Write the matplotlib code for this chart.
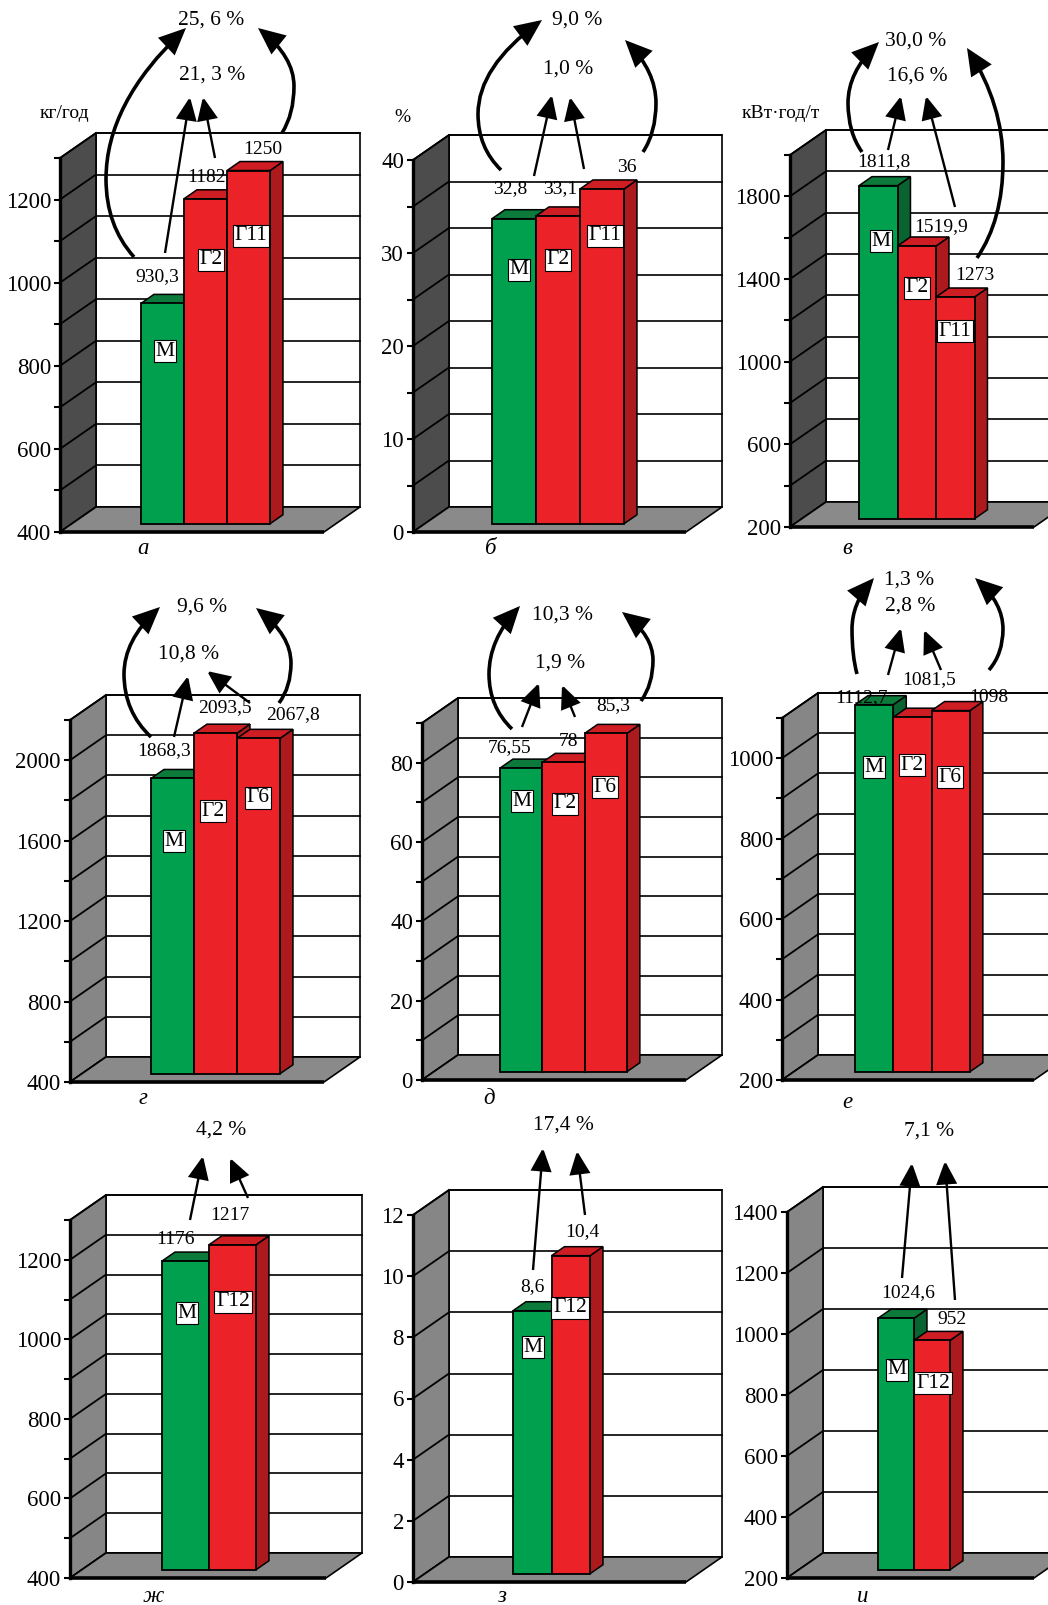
import numpy as np
import matplotlib
matplotlib.use("Agg")
import matplotlib.pyplot as plt
import matplotlib.transforms as mtransforms
from matplotlib.patches import Polygon, Rectangle, FancyArrowPatch
from matplotlib.path import Path
from matplotlib.ticker import FuncFormatter

plt.rcParams['font.family'] = ['Liberation Serif', 'DejaVu Serif']

W, H = 1048, 1605

# ---------------- data ----------------
a_cats = ['М', 'Г2', 'Г11']
a_vals = [930.3, 1182, 1250]
b_cats = ['М', 'Г2', 'Г11']
b_vals = [32.8, 33.1, 36]
v_cats = ['М', 'Г2', 'Г11']
v_vals = [1811.8, 1519.9, 1273]
g_cats = ['М', 'Г2', 'Г6']
g_vals = [1868.3, 2093.5, 2067.8]
d_cats = ['М', 'Г2', 'Г6']
d_vals = [76.55, 78, 85.3]
e_cats = ['М', 'Г2', 'Г6']
e_vals = [1112.7, 1081.5, 1098]
zh_cats = ['М', 'Г12']
zh_vals = [1176, 1217]
z_cats = ['М', 'Г12']
z_vals = [8.6, 10.4]
i_cats = ['М', 'Г12']
i_vals = [1024.6, 952]

# value axis: (min, max, grid step, labelled step)
a_axis = (400, 1300, 100, 200)
b_axis = (0, 40, 5, 10)
v_axis = (200, 2000, 200, 400)
g_axis = (400, 2200, 200, 400)
d_axis = (0, 90, 10, 20)
e_axis = (200, 1100, 100, 200)
zh_axis = (400, 1300, 100, 200)
z_axis = (0, 12, 2, 2)
i_axis = (200, 1400, 200, 200)

# relative changes written above the bars (outer, inner)
a_pct = ['25, 6 %', '21, 3 %']
b_pct = ['9,0 %', '1,0 %']
v_pct = ['30,0 %', '16,6 %']
g_pct = ['9,6 %', '10,8 %']
d_pct = ['10,3 %', '1,9 %']
e_pct = ['1,3 %', '2,8 %']
zh_pct = ['4,2 %']
z_pct = ['17,4 %']
i_pct = ['7,1 %']

units = {'а': 'кг/год', 'б': '%', 'в': 'кВт·год/т'}

# ---------------- layout (figure pixels, y downward) ----------------
DEPTH = (36, 25)          # wall depth offset
F0, FD = 0.33, 0.36       # bar front position / bar depth as share of wall depth
DARK_WALL, LIGHT_WALL, FLOOR = '#4c4c4c', '#868686', '#8a8a8a'

panels = [
    dict(letter='а', cats=a_cats, vals=a_vals, axis=a_axis, pct=a_pct,
         cell=(0, 0, 350, 560), axis_x=60, base_y=532, top_y=158,
         bar_left=141, bar_w=43, wall_right=360, wall=DARK_WALL,
         vlab=[(157, 277), (207, 177), (263, 150)],
         clab=[(165, 351), (211, 260), (251, 236)],
         plab=[(211, 20), (212, 75)],
         straight=[((165, 253), (190, 97)), ((215, 158), (203, 97))],
         curved=[((134, 257), (106, 179), (186, 28)), ((282, 133), (294, 86), (258, 28))],
         unit_xy=(65, 114), let_xy=(143, 549)),
    dict(letter='б', cats=b_cats, vals=b_vals, axis=b_axis, pct=b_pct,
         cell=(350, 0, 700, 560), axis_x=413, base_y=532, top_y=160,
         bar_left=492, bar_w=44, wall_right=722, wall=DARK_WALL,
         vlab=[(510, 189), (560, 189), (627, 167)],
         clab=[(519, 270), (558, 260), (605, 236)],
         plab=[(577, 20), (568, 69)],
         straight=[((534, 176), (552, 95)), ((584, 169), (570, 97))],
         curved=[((501, 170), (478, 114), (542, 20)), ((643, 152), (656, 103), (625, 40))],
         unit_xy=(402, 117), let_xy=(491, 549)),
    dict(letter='в', cats=v_cats, vals=v_vals, axis=v_axis, pct=v_pct,
         cell=(700, 0, 1048, 560), axis_x=790, base_y=527, top_y=155,
         bar_left=859, bar_w=38.5, wall_right=1070, wall=DARK_WALL,
         vlab=[(884, 162), (941, 227), (975, 275)],
         clab=[(881, 241), (917, 288), (955, 331)],
         plab=[(916, 41), (917, 76)],
         straight=[((888, 150), (901, 96)), ((955, 207), (926, 96))],
         curved=[((862, 152), (848, 103), (879, 42)), ((977, 258), (1003, 162), (967, 48))],
         unit_xy=(781, 114), let_xy=(847, 549)),
    dict(letter='г', cats=g_cats, vals=g_vals, axis=g_axis, pct=g_pct,
         cell=(0, 560, 350, 1100), axis_x=70, base_y=1082, top_y=720,
         bar_left=151, bar_w=43, wall_right=360, wall=LIGHT_WALL,
         vlab=[(164, 751), (225, 708), (293, 715)],
         clab=[(174, 841), (213, 811), (258, 798)],
         plab=[(202, 607), (189, 654)],
         straight=[((174, 737), (188, 676)), ((250, 703), (207, 671))],
         curved=[((151, 737), (124, 674), (160, 607)), ((279, 703), (291, 663), (256, 608))],
         unit_xy=None, let_xy=(143, 1098)),
    dict(letter='д', cats=d_cats, vals=d_vals, axis=d_axis, pct=d_pct,
         cell=(350, 560, 700, 1100), axis_x=422, base_y=1080, top_y=723,
         bar_left=500, bar_w=42.3, wall_right=722, wall=LIGHT_WALL,
         vlab=[(510, 748), (569, 741), (613, 706)],
         clab=[(522, 801), (565, 804), (605, 787)],
         plab=[(562, 615), (560, 663)],
         straight=[((522, 727), (539, 683)), ((575, 717), (562, 685))],
         curved=[((512, 729), (489, 674), (520, 606)), ((641, 701), (653, 660), (622, 612))],
         unit_xy=None, let_xy=(489, 1098)),
    dict(letter='е', cats=e_cats, vals=e_vals, axis=e_axis, pct=e_pct,
         cell=(700, 560, 1048, 1100), axis_x=782, base_y=1080, top_y=718,
         bar_left=855, bar_w=38.3, wall_right=1070, wall=LIGHT_WALL,
         vlab=[(862, 698), (929, 680), (989, 698)],
         clab=[(874, 767), (912, 765), (950, 777)],
         plab=[(909, 580), (910, 606)],
         straight=[((888, 675), (901, 628)), ((941, 670), (924, 630))],
         curved=[((857, 674), (852, 629), (874, 578)), ((989, 670), (1003, 629), (975, 578))],
         unit_xy=None, let_xy=(847, 1103)),
    dict(letter='ж', cats=zh_cats, vals=zh_vals, axis=zh_axis, pct=zh_pct,
         cell=(0, 1100, 350, 1605), axis_x=70, base_y=1578, top_y=1220,
         bar_left=162, bar_w=47, wall_right=362, wall=LIGHT_WALL,
         vlab=[(175, 1240), (230, 1215)],
         clab=[(187, 1313), (233, 1302)],
         plab=[(221, 1130)],
         straight=[((190, 1220), (203, 1156)), ((248, 1198), (230, 1158))],
         curved=[],
         unit_xy=None, let_xy=(153, 1597)),
    dict(letter='з', cats=z_cats, vals=z_vals, axis=z_axis, pct=z_pct,
         cell=(350, 1100, 700, 1605), axis_x=413, base_y=1582, top_y=1215,
         bar_left=513, bar_w=38.5, wall_right=722, wall=LIGHT_WALL,
         vlab=[(532, 1287), (582, 1232)],
         clab=[(533, 1347), (570, 1308)],
         plab=[(563, 1125)],
         straight=[((533, 1270), (543, 1148)), ((585, 1215), (577, 1151))],
         curved=[],
         unit_xy=None, let_xy=(502, 1597)),
    dict(letter='и', cats=i_cats, vals=i_vals, axis=i_axis, pct=i_pct,
         cell=(700, 1100, 1048, 1605), axis_x=787, base_y=1578, top_y=1212,
         bar_left=878, bar_w=36, wall_right=1070, wall=LIGHT_WALL,
         vlab=[(908, 1293), (952, 1320)],
         clab=[(897, 1370), (933, 1383)],
         plab=[(929, 1131)],
         straight=[((902, 1278), (912, 1163)), ((955, 1300), (945, 1161))],
         curved=[],
         unit_xy=None, let_xy=(863, 1597)),
]

GREEN = dict(front='#00a04e', top='#0b7a3a', side='#0a6431')
RED = dict(front='#ec2229', top='#cf1d24', side='#ad1a1e')

fig = plt.figure(figsize=(W / 100, H / 100), dpi=100)
fig.patch.set_facecolor('white')
PX = mtransforms.Affine2D().scale(1, -1).translate(0, H)


def fmt(v):
    return f'{v:g}'.replace('.', ',')


def arrow(verts, codes, lw, scale):
    p = FancyArrowPatch(path=Path(verts, codes), transform=PX,
                        arrowstyle='-|>,head_length=1.0,head_width=0.45',
                        mutation_scale=scale, lw=lw, color='k',
                        joinstyle='miter', capstyle='butt')
    fig.add_artist(p)


def draw_panel(P):
    ymin, ymax, gstep, lstep = P['axis']
    vals = P['vals']
    cx0, cy0, cx1, cy1 = P['cell']
    k = (P['base_y'] - P['top_y']) / (ymax - ymin)
    bw, bl = P['bar_w'], P['bar_left']
    ax = fig.add_axes([cx0 / W, 1 - cy1 / H, (cx1 - cx0) / W, (cy1 - cy0) / H])
    ax.patch.set_visible(False)

    dxd, dyd = DEPTH[0] / bw, DEPTH[1] / k
    xa = (P['axis_x'] - bl) / bw
    xb = xa + dxd
    xr = (P['wall_right'] - bl) / bw
    levels = np.arange(ymin, ymax + gstep / 2, gstep)

    # back wall with grid
    ax.add_patch(Rectangle((xb, ymin + dyd), xr - xb, ymax - ymin, fc='white',
                           ec='k', lw=1.2, zorder=1, clip_on=False))
    for g in levels:
        ax.plot([xb, xr], [g + dyd] * 2, color='k', lw=1.2, zorder=1.5, clip_on=False)
    # side wall
    ax.add_patch(Polygon([(xa, ymin), (xa, ymax), (xb, ymax + dyd), (xb, ymin + dyd)],
                         closed=True, fc=P['wall'], ec='k', lw=1.2, zorder=2, clip_on=False))
    for g in levels:
        ax.plot([xa, xb], [g, g + dyd], color='k', lw=1.3, zorder=2.5, clip_on=False)
    # floor
    ax.add_patch(Polygon([(xa, ymin), (xr - dxd, ymin), (xr, ymin + dyd), (xb, ymin + dyd)],
                         closed=True, fc=FLOOR, ec='k', lw=1.2, zorder=3, clip_on=False))
    ax.plot([xa, xr - dxd], [ymin, ymin], color='k', lw=2.6, zorder=3.5,
            solid_capstyle='butt', clip_on=False)

    # bars
    n = len(vals)
    s, ddx, ddy = F0 * dyd, FD * dxd, FD * dyd
    pal = [GREEN] + [RED] * (n - 1)
    xs = np.arange(n) + 0.5
    bars = ax.bar(xs, np.array(vals) - ymin, width=1.0, bottom=ymin + s,
                  color=[p['front'] for p in pal], edgecolor='k', linewidth=1.3,
                  clip_on=False)
    for i, (r, v, p) in enumerate(zip(bars, vals, pal)):
        r.set_zorder(5 + 2 * i)
        x0, x1 = i, i + 1
        ax.add_patch(Polygon([(x1, ymin + s), (x1, v + s), (x1 + ddx, v + s + ddy),
                              (x1 + ddx, ymin + s + ddy)], closed=True, fc=p['side'],
                             ec='k', lw=1.1, zorder=4 + 2 * i, clip_on=False))
        ax.add_patch(Polygon([(x0, v + s), (x1, v + s), (x1 + ddx, v + s + ddy),
                              (x0 + ddx, v + s + ddy)], closed=True, fc=p['top'],
                             ec='k', lw=1.1, zorder=4 + 2 * i, clip_on=False))

    # value axis
    for sp in ['top', 'right', 'bottom']:
        ax.spines[sp].set_visible(False)
    ax.spines['left'].set_position(('data', xa))
    ax.spines['left'].set_bounds(ymin, ymax)
    ax.spines['left'].set_linewidth(2.4)
    ax.set_xticks([])
    ax.set_yticks(np.arange(ymin, ymax + 1e-9, lstep))
    ax.set_yticks(levels, minor=True)
    ax.yaxis.set_major_formatter(FuncFormatter(lambda v, pos: fmt(v)))
    ax.tick_params(axis='y', which='both', direction='out', length=4.5, width=1.5,
                   labelsize=16.5, pad=2)
    ax.set_xlim((cx0 - bl) / bw, (cx1 - bl) / bw)
    ax.set_ylim(ymin + (P['base_y'] - cy1) / k, ymin + (P['base_y'] - cy0) / k)

    # texts
    for (x, y), v in zip(P['vlab'], vals):
        fig.text(x, y, fmt(v), transform=PX, ha='center', va='center', fontsize=14)
    for (x, y), c in zip(P['clab'], P['cats']):
        fig.text(x, y, c, transform=PX, ha='center', va='center', fontsize=15.5,
                 bbox=dict(boxstyle='square,pad=0.08', fc='white', ec='k', lw=0.8))
    for (x, y), t in zip(P['plab'], P['pct']):
        fig.text(x, y, t, transform=PX, ha='center', va='center', fontsize=15.5)
    if P['unit_xy'] is not None:
        fig.text(*P['unit_xy'], units[P['letter']], transform=PX, ha='center',
                 va='center', fontsize=14)
    fig.text(*P['let_xy'], P['letter'], transform=PX, ha='center', va='center',
             fontsize=16.5, style='italic')

    # arrows
    for S, E in P['straight']:
        arrow([S, E], [Path.MOVETO, Path.LINETO], lw=1.7, scale=14)
    for S, M, E in P['curved']:
        S, M, E = map(np.asarray, (S, M, E))
        C1 = (M[0], M[1] + (S[1] - M[1]) * 0.6)
        C2 = (M[0], E[1] + (M[1] - E[1]) * 0.5)
        arrow([tuple(S), C1, tuple(M), C2, tuple(E)],
              [Path.MOVETO, Path.CURVE3, Path.CURVE3, Path.CURVE3, Path.CURVE3],
              lw=2.6, scale=15)


for P in panels:
    draw_panel(P)

fig.savefig('out.png', dpi=100, facecolor='white')
